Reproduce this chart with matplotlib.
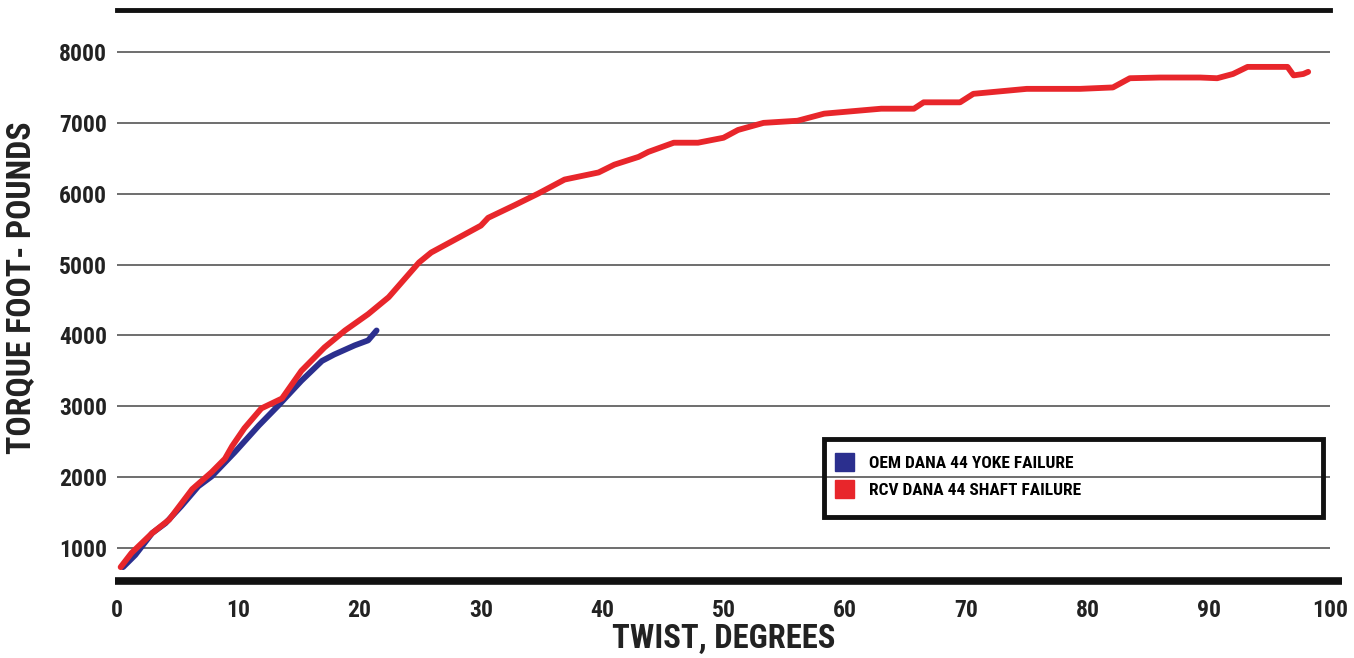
import matplotlib.pyplot as plt
from matplotlib import font_manager
from matplotlib.patches import Patch, Rectangle

# twist (degrees) vs torque (ft-lb)
oem_twist = [0.5, 1.5, 2.9, 4.0, 5.3, 6.7, 7.8, 9.7, 11.7, 13.3, 15.2,
             16.9, 17.9, 19.6, 20.7, 21.4]
oem_torque = [730, 900, 1210, 1350, 1590, 1870, 2010, 2350, 2730, 3010,
              3360, 3640, 3730, 3860, 3930, 4070]

rcv_twist = [0.3, 1.2, 2.9, 4.3, 6.2, 7.8, 8.9, 9.5, 10.5, 11.9, 13.6,
             15.2, 17.1, 18.8, 20.7, 22.4, 24.9, 25.9, 28.6, 30.0, 30.6,
             32.8, 34.7, 36.9, 39.7, 41.0, 43.0, 43.8, 45.9, 47.9, 50.0,
             51.2, 53.3, 56.1, 58.3, 63.0, 65.7, 66.5, 69.5, 70.6, 75.0,
             79.4, 82.1, 83.5, 86.0, 89.3, 90.7, 92.0, 93.2, 96.5, 97.0,
             97.8, 98.2]
rcv_torque = [730, 930, 1210, 1400, 1830, 2070, 2260, 2440, 2690, 2970,
              3110, 3500, 3830, 4070, 4300, 4540, 5030, 5170, 5420, 5550,
              5660, 5840, 6000, 6200, 6300, 6410, 6520, 6590, 6720, 6720,
              6790, 6900, 7000, 7030, 7130, 7200, 7200, 7290, 7290, 7410,
              7480, 7480, 7500, 7630, 7640, 7640, 7630, 7690, 7790, 7790,
              7670, 7690, 7720]

series_names = ["OEM DANA 44 YOKE FAILURE", "RCV DANA 44 SHAFT FAILURE"]
series_colors = ["#2b2f8e", "#e8262b"]

x_ticks = list(range(0, 101, 10))
y_ticks = list(range(1000, 8001, 1000))


def pick_font():
    # first condensed family that really has a bold face
    wanted = ["Roboto Condensed", "Barlow Condensed", "PT Sans Narrow",
              "Archivo Narrow", "Saira SemiCondensed"]
    for name in wanted:
        for f in font_manager.fontManager.ttflist:
            if f.name == name and isinstance(f.weight, int) and f.weight >= 700:
                return name
    return "Archivo Narrow"


font = [pick_font(), "DejaVu Sans"]
ink = "#222222"

fig = plt.figure(figsize=(13.54, 6.58), dpi=100)
ax = fig.add_axes([117 / 1354, 77 / 658, 1213 / 1354, 571 / 658])

ax.set_xlim(0, 100)
ax.set_ylim(534, 8593)

for y in y_ticks:
    ax.axhline(y, color="#555555", lw=1.2, zorder=1)

ax.plot(oem_twist, oem_torque, color=series_colors[0], lw=4.2,
        solid_capstyle="round", zorder=2)
ax.plot(rcv_twist, rcv_torque, color=series_colors[1], lw=4.2,
        solid_capstyle="round", zorder=3)

for side in ["left", "right"]:
    ax.spines[side].set_visible(False)
ax.spines["top"].set_linewidth(3.5)
ax.spines["top"].set_color("#111111")
ax.spines["bottom"].set_visible(False)
ax.plot([-0.002, 1.01], [0, 0], transform=ax.transAxes, color="#111111",
        lw=5.5, clip_on=False, solid_capstyle="butt")

ax.set_xticks(x_ticks)
ax.set_yticks(y_ticks)
ax.tick_params(length=0)
ax.tick_params(axis="x", pad=13)
ax.tick_params(axis="y", pad=7)
for lab in ax.get_xticklabels() + ax.get_yticklabels():
    lab.set_fontfamily(font)
    lab.set_fontweight("bold")
    lab.set_fontsize(17)
    lab.set_color(ink)

ax.set_xlabel("TWIST, DEGREES", fontfamily=font, fontweight="bold",
              fontsize=23.5, color=ink, labelpad=1)
ax.set_ylabel("TORQUE FOOT- POUNDS", fontfamily=font, fontweight="bold",
              fontsize=24.3, color=ink)
ax.yaxis.set_label_coords(-0.066, 0.513)

# legend box drawn on its own, legend entries inside it
fig.patches.append(Rectangle((824 / 1354, 1 - 517 / 658), 499 / 1354,
                             78 / 658, transform=fig.transFigure,
                             fill=False, edgecolor="#111111", lw=3.5))
handles = [Patch(color=c) for c in series_colors]
fig.legend(handles, series_names, loc="upper left",
           bbox_to_anchor=(835 / 1354, 1 - 453 / 658), frameon=False,
           prop={"family": font, "weight": "bold", "size": 12.5},
           handlelength=1.1, handleheight=1.2, handletextpad=0.85,
           labelspacing=0.55, borderpad=0, borderaxespad=0)

fig.savefig("out.png", dpi=100)
